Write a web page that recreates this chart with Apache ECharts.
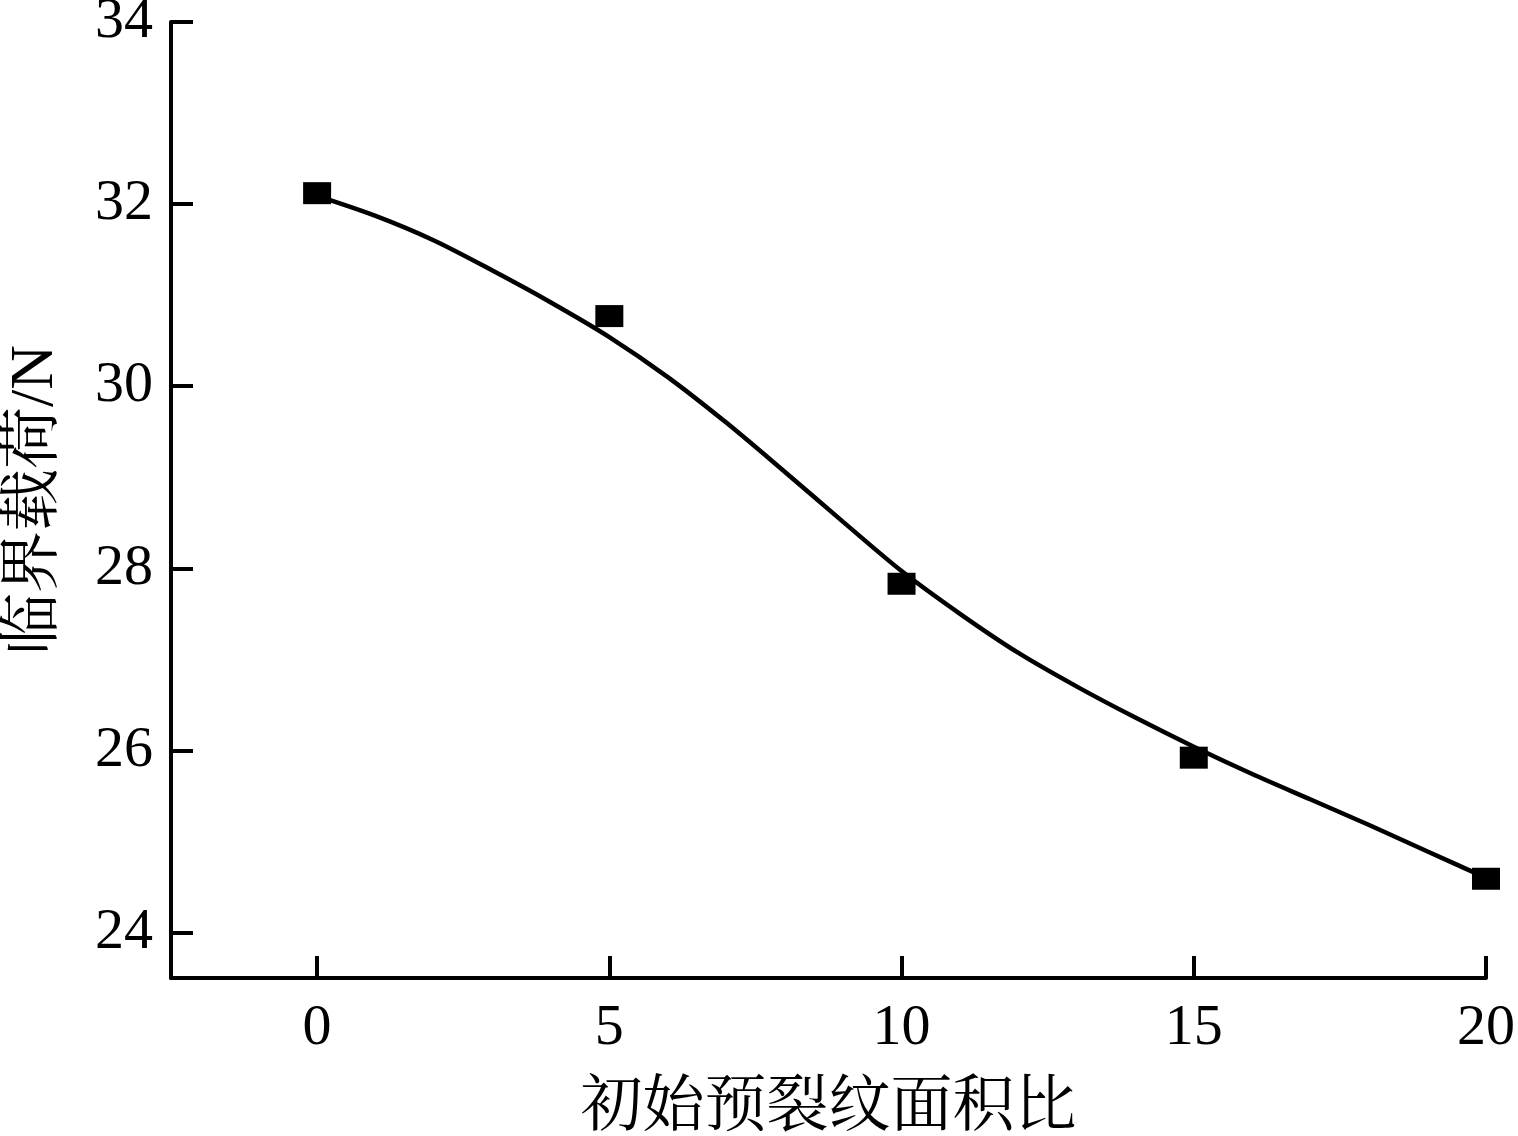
<!DOCTYPE html>
<html>
<head>
<meta charset="utf-8">
<script src="https://cdn.jsdelivr.net/npm/echarts@6/dist/echarts.min.js"></script>
<style>
html,body{margin:0;padding:0;background:#fff;}
#c{width:1518px;height:1136px;}
</style>
</head>
<body>
<div id="c"></div>
<script>
// measured points
const ratioX = [0, 5, 10, 15, 20];
const loadY = [32.12, 30.77, 27.83, 25.92, 24.59];
// fitted curve
const fitX = [0,1,2,3,4,5,6,7,8,9,10,11,12,13,14,15,16,17,18,19,20];
const fitY = [32.09,31.87,31.60,31.27,30.92,30.54,30.10,29.60,29.06,28.51,27.97,27.50,27.07,26.70,26.36,26.04,25.74,25.46,25.18,24.89,24.60];
const xTicks = [0, 5, 10, 15, 20];
const yTicks = [24, 26, 28, 30, 32, 34];
const xName = '初始预裂纹面积比';
const yName = '临界载荷/N';

const FONT = "'Liberation Serif', 'Noto Serif CJK SC', 'Noto Sans CJK SC', serif";
const chart = echarts.init(document.getElementById('c'));
chart.setOption({
  backgroundColor: '#fff',
  animation: false,
  grid: {left: 171, right: 32, top: 22, bottom: 158, containLabel: false, outerBoundsMode: 'none'},
  xAxis: {
    type: 'value', min: -2.5, max: 20,
    name: xName, nameLocation: 'middle', nameGap: 101,
    nameTextStyle: {fontFamily: FONT, fontSize: 62, color: '#000'},
    axisLine: {onZero: false, lineStyle: {color: '#000', width: 4}},
    axisTick: {inside: true, length: 22, lineStyle: {color: '#000', width: 4}, customValues: xTicks},
    axisLabel: {margin: 22, fontFamily: FONT, fontSize: 58, color: '#000', customValues: xTicks},
    splitLine: {show: false}
  },
  yAxis: {
    type: 'value', min: 23.5, max: 34,
    name: yName, nameLocation: 'middle', nameGap: 104, nameRotate: 90,
    nameTextStyle: {fontFamily: FONT, fontSize: 62, color: '#000'},
    axisLine: {onZero: false, lineStyle: {color: '#000', width: 4}},
    axisTick: {inside: true, length: 22, lineStyle: {color: '#000', width: 4}, customValues: yTicks},
    axisLabel: {margin: 18, fontFamily: FONT, fontSize: 58, color: '#000', customValues: yTicks},
    splitLine: {show: false}
  },
  series: [
    {
      type: 'line', smooth: 0.3, showSymbol: false,
      data: fitX.map((x, i) => [x, fitY[i]]),
      lineStyle: {color: '#000', width: 4.5},
      z: 2
    },
    {
      type: 'scatter', symbol: 'rect', symbolSize: [28, 22],
      data: ratioX.map((x, i) => [x, loadY[i]]),
      itemStyle: {color: '#000', opacity: 1},
      z: 3
    }
  ]
});
</script>
</body>
</html>
